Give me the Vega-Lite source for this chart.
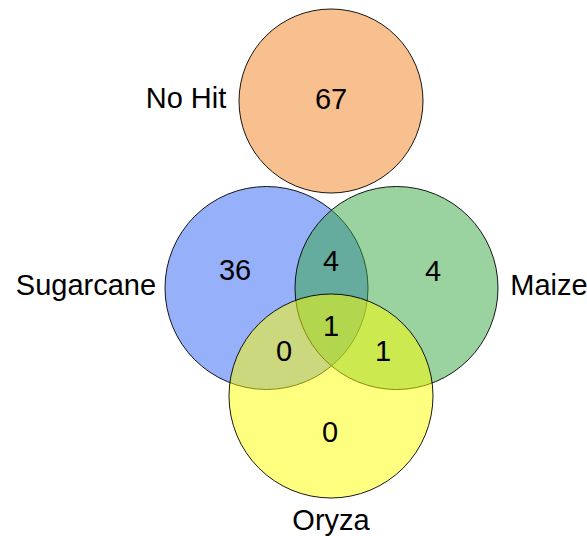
{
  "$schema": "https://vega.github.io/schema/vega-lite/v6.json",
  "width": 587,
  "height": 536,
  "autosize": "none",
  "padding": 0,
  "background": "white",
  "config": {"view": {"stroke": null}},
  "datasets": {
    "sets": [
      {"set": "No Hit", "x": 331, "y": 101, "r": 92},
      {"set": "Sugarcane", "x": 266.5, "y": 288, "r": 101.5},
      {"set": "Maize", "x": 396.5, "y": 288, "r": 101.5},
      {"set": "Oryza", "x": 331, "y": 396, "r": 102}
    ],
    "counts": [
      {"region": "No Hit", "x": 331, "y": 100, "count": 67},
      {"region": "Sugarcane only", "x": 235, "y": 271, "count": 36},
      {"region": "Sugarcane & Maize", "x": 331, "y": 262, "count": 4},
      {"region": "Maize only", "x": 433, "y": 272, "count": 4},
      {"region": "All three", "x": 331, "y": 327, "count": 1},
      {"region": "Sugarcane & Oryza", "x": 284, "y": 352, "count": 0},
      {"region": "Maize & Oryza", "x": 383, "y": 352, "count": 1},
      {"region": "Oryza only", "x": 330, "y": 433, "count": 0}
    ],
    "labels": [
      {"label": "No Hit", "x": 186, "y": 99},
      {"label": "Sugarcane", "x": 86, "y": 286},
      {"label": "Maize", "x": 549, "y": 286},
      {"label": "Oryza", "x": 331, "y": 521}
    ]
  },
  "layer": [
    {
      "data": {"name": "sets"},
      "mark": {"type": "point", "shape": "circle", "filled": true, "fillOpacity": 0.5, "stroke": "black", "strokeWidth": 1, "strokeOpacity": 0.9},
      "encoding": {
        "x": {"field": "x", "type": "quantitative", "scale": {"domain": [0, 587], "nice": false, "zero": false}, "axis": null},
        "y": {"field": "y", "type": "quantitative", "scale": {"domain": [0, 536], "nice": false, "zero": false, "reverse": true}, "axis": null},
        "size": {"field": "r", "type": "quantitative", "scale": {"type": "pow", "exponent": 2, "domain": [0, 100], "range": [0, 40000]}, "legend": null},
        "fill": {"field": "set", "type": "nominal", "scale": {"domain": ["No Hit", "Sugarcane", "Maize", "Oryza"], "range": ["#F17F1F", "#2F61F5", "#35A741", "#FFFF00"]}, "legend": null}
      }
    },
    {
      "data": {"name": "counts"},
      "mark": {"type": "text", "font": "Liberation Sans", "fontSize": 29, "align": "center", "baseline": "middle", "color": "black"},
      "encoding": {
        "x": {"field": "x", "type": "quantitative"},
        "y": {"field": "y", "type": "quantitative"},
        "text": {"field": "count", "type": "quantitative"}
      }
    },
    {
      "data": {"name": "labels"},
      "mark": {"type": "text", "font": "Liberation Sans", "fontSize": 29, "align": "center", "baseline": "middle", "color": "black"},
      "encoding": {
        "x": {"field": "x", "type": "quantitative"},
        "y": {"field": "y", "type": "quantitative"},
        "text": {"field": "label", "type": "nominal"}
      }
    }
  ]
}
